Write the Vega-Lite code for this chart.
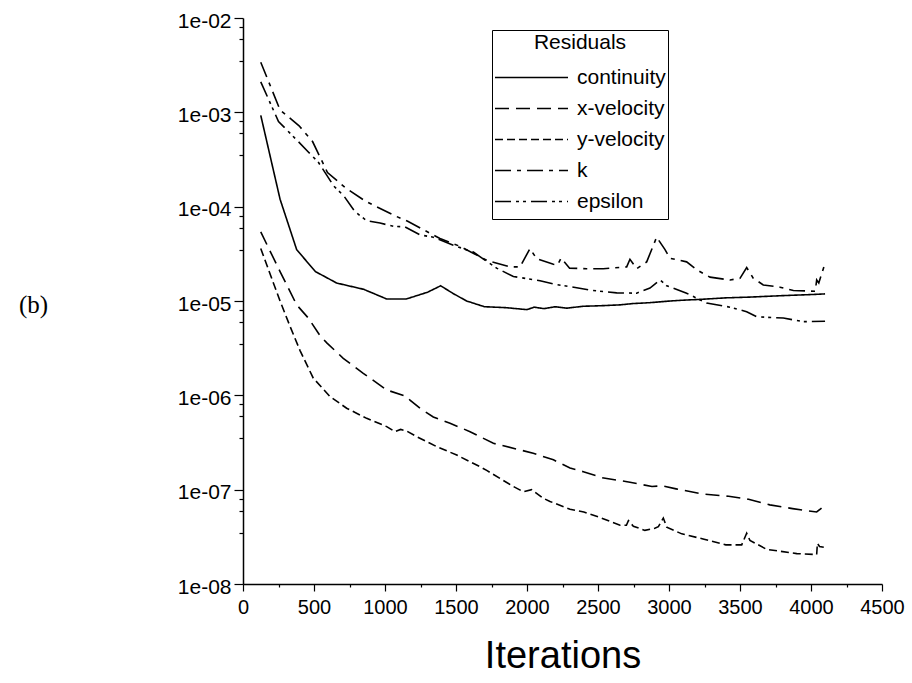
{
  "$schema": "https://vega.github.io/schema/vega-lite/v6.json",
  "width": 639,
  "height": 566,
  "autosize": {"type": "none"},
  "padding": {"left": 243, "top": 18, "right": 30, "bottom": 99},
  "background": "white",
  "config": {
    "view": {"stroke": null},
    "font": "Liberation Sans"
  },
  "data": {
    "values": [
      {"it": 125, "r": 9.3e-4, "s": "continuity"},
      {"it": 261, "r": 1.2e-4, "s": "continuity"},
      {"it": 378, "r": 3.5e-5, "s": "continuity"},
      {"it": 510, "r": 2.05e-5, "s": "continuity"},
      {"it": 660, "r": 1.55e-5, "s": "continuity"},
      {"it": 850, "r": 1.33e-5, "s": "continuity"},
      {"it": 1012, "r": 1.05e-5, "s": "continuity"},
      {"it": 1150, "r": 1.05e-5, "s": "continuity"},
      {"it": 1300, "r": 1.24e-5, "s": "continuity"},
      {"it": 1392, "r": 1.45e-5, "s": "continuity"},
      {"it": 1480, "r": 1.2e-5, "s": "continuity"},
      {"it": 1575, "r": 1.0e-5, "s": "continuity"},
      {"it": 1700, "r": 8.7e-6, "s": "continuity"},
      {"it": 1850, "r": 8.5e-6, "s": "continuity"},
      {"it": 2000, "r": 8.1e-6, "s": "continuity"},
      {"it": 2050, "r": 8.6e-6, "s": "continuity"},
      {"it": 2120, "r": 8.3e-6, "s": "continuity"},
      {"it": 2200, "r": 8.7e-6, "s": "continuity"},
      {"it": 2280, "r": 8.4e-6, "s": "continuity"},
      {"it": 2400, "r": 8.8e-6, "s": "continuity"},
      {"it": 2514, "r": 8.9e-6, "s": "continuity"},
      {"it": 2655, "r": 9.1e-6, "s": "continuity"},
      {"it": 2750, "r": 9.4e-6, "s": "continuity"},
      {"it": 2866, "r": 9.6e-6, "s": "continuity"},
      {"it": 3007, "r": 1.0e-5, "s": "continuity"},
      {"it": 3100, "r": 1.02e-5, "s": "continuity"},
      {"it": 3218, "r": 1.04e-5, "s": "continuity"},
      {"it": 3400, "r": 1.08e-5, "s": "continuity"},
      {"it": 3570, "r": 1.1e-5, "s": "continuity"},
      {"it": 3800, "r": 1.14e-5, "s": "continuity"},
      {"it": 4000, "r": 1.17e-5, "s": "continuity"},
      {"it": 4099, "r": 1.19e-5, "s": "continuity"},

      {"it": 125, "r": 5.4e-5, "s": "x-velocity"},
      {"it": 261, "r": 2.05e-5, "s": "x-velocity"},
      {"it": 378, "r": 9.1e-6, "s": "x-velocity"},
      {"it": 460, "r": 6.6e-6, "s": "x-velocity"},
      {"it": 542, "r": 4.3e-6, "s": "x-velocity"},
      {"it": 590, "r": 3.6e-6, "s": "x-velocity"},
      {"it": 706, "r": 2.47e-6, "s": "x-velocity"},
      {"it": 847, "r": 1.71e-6, "s": "x-velocity"},
      {"it": 1012, "r": 1.14e-6, "s": "x-velocity"},
      {"it": 1153, "r": 9.7e-7, "s": "x-velocity"},
      {"it": 1176, "r": 8.9e-7, "s": "x-velocity"},
      {"it": 1246, "r": 7.3e-7, "s": "x-velocity"},
      {"it": 1340, "r": 5.9e-7, "s": "x-velocity"},
      {"it": 1458, "r": 5.06e-7, "s": "x-velocity"},
      {"it": 1599, "r": 4.12e-7, "s": "x-velocity"},
      {"it": 1669, "r": 3.65e-7, "s": "x-velocity"},
      {"it": 1763, "r": 3.1e-7, "s": "x-velocity"},
      {"it": 1951, "r": 2.64e-7, "s": "x-velocity"},
      {"it": 2044, "r": 2.43e-7, "s": "x-velocity"},
      {"it": 2186, "r": 2.07e-7, "s": "x-velocity"},
      {"it": 2303, "r": 1.7e-7, "s": "x-velocity"},
      {"it": 2397, "r": 1.55e-7, "s": "x-velocity"},
      {"it": 2530, "r": 1.34e-7, "s": "x-velocity"},
      {"it": 2725, "r": 1.2e-7, "s": "x-velocity"},
      {"it": 2880, "r": 1.08e-7, "s": "x-velocity"},
      {"it": 2950, "r": 1.1e-7, "s": "x-velocity"},
      {"it": 3050, "r": 1.02e-7, "s": "x-velocity"},
      {"it": 3235, "r": 9.0e-8, "s": "x-velocity"},
      {"it": 3420, "r": 8.5e-8, "s": "x-velocity"},
      {"it": 3560, "r": 7.9e-8, "s": "x-velocity"},
      {"it": 3710, "r": 6.9e-8, "s": "x-velocity"},
      {"it": 3870, "r": 6.3e-8, "s": "x-velocity"},
      {"it": 4000, "r": 5.9e-8, "s": "x-velocity"},
      {"it": 4040, "r": 5.8e-8, "s": "x-velocity"},
      {"it": 4075, "r": 6.4e-8, "s": "x-velocity"},
      {"it": 4095, "r": 6.2e-8, "s": "x-velocity"},

      {"it": 125, "r": 3.6e-5, "s": "y-velocity"},
      {"it": 214, "r": 1.55e-5, "s": "y-velocity"},
      {"it": 261, "r": 1.0e-5, "s": "y-velocity"},
      {"it": 331, "r": 5.4e-6, "s": "y-velocity"},
      {"it": 401, "r": 3.0e-6, "s": "y-velocity"},
      {"it": 495, "r": 1.52e-6, "s": "y-velocity"},
      {"it": 613, "r": 9.7e-7, "s": "y-velocity"},
      {"it": 730, "r": 7.3e-7, "s": "y-velocity"},
      {"it": 871, "r": 5.7e-7, "s": "y-velocity"},
      {"it": 1012, "r": 4.66e-7, "s": "y-velocity"},
      {"it": 1070, "r": 4.12e-7, "s": "y-velocity"},
      {"it": 1110, "r": 4.35e-7, "s": "y-velocity"},
      {"it": 1150, "r": 4.2e-7, "s": "y-velocity"},
      {"it": 1223, "r": 3.65e-7, "s": "y-velocity"},
      {"it": 1364, "r": 2.86e-7, "s": "y-velocity"},
      {"it": 1505, "r": 2.33e-7, "s": "y-velocity"},
      {"it": 1669, "r": 1.75e-7, "s": "y-velocity"},
      {"it": 1716, "r": 1.6e-7, "s": "y-velocity"},
      {"it": 1904, "r": 1.08e-7, "s": "y-velocity"},
      {"it": 1974, "r": 9.5e-8, "s": "y-velocity"},
      {"it": 2033, "r": 1.0e-7, "s": "y-velocity"},
      {"it": 2115, "r": 8.1e-8, "s": "y-velocity"},
      {"it": 2162, "r": 7.5e-8, "s": "y-velocity"},
      {"it": 2303, "r": 6.2e-8, "s": "y-velocity"},
      {"it": 2400, "r": 5.8e-8, "s": "y-velocity"},
      {"it": 2525, "r": 5.0e-8, "s": "y-velocity"},
      {"it": 2655, "r": 4.2e-8, "s": "y-velocity"},
      {"it": 2700, "r": 4.2e-8, "s": "y-velocity"},
      {"it": 2714, "r": 4.7e-8, "s": "y-velocity"},
      {"it": 2749, "r": 4.1e-8, "s": "y-velocity"},
      {"it": 2830, "r": 3.7e-8, "s": "y-velocity"},
      {"it": 2900, "r": 3.9e-8, "s": "y-velocity"},
      {"it": 2925, "r": 4.05e-8, "s": "y-velocity"},
      {"it": 2960, "r": 5.0e-8, "s": "y-velocity"},
      {"it": 2984, "r": 4.0e-8, "s": "y-velocity"},
      {"it": 3090, "r": 3.4e-8, "s": "y-velocity"},
      {"it": 3240, "r": 3.0e-8, "s": "y-velocity"},
      {"it": 3400, "r": 2.6e-8, "s": "y-velocity"},
      {"it": 3512, "r": 2.6e-8, "s": "y-velocity"},
      {"it": 3547, "r": 3.45e-8, "s": "y-velocity"},
      {"it": 3570, "r": 2.9e-8, "s": "y-velocity"},
      {"it": 3688, "r": 2.33e-8, "s": "y-velocity"},
      {"it": 3900, "r": 2.1e-8, "s": "y-velocity"},
      {"it": 4040, "r": 2.05e-8, "s": "y-velocity"},
      {"it": 4045, "r": 2.7e-8, "s": "y-velocity"},
      {"it": 4060, "r": 2.5e-8, "s": "y-velocity"},
      {"it": 4090, "r": 2.45e-8, "s": "y-velocity"},

      {"it": 125, "r": 3.4e-3, "s": "k"},
      {"it": 261, "r": 1.06e-3, "s": "k"},
      {"it": 395, "r": 7.2e-4, "s": "k"},
      {"it": 490, "r": 4.9e-4, "s": "k"},
      {"it": 595, "r": 2.3e-4, "s": "k"},
      {"it": 718, "r": 1.6e-4, "s": "k"},
      {"it": 860, "r": 1.15e-4, "s": "k"},
      {"it": 1070, "r": 8.0e-5, "s": "k"},
      {"it": 1160, "r": 7.0e-5, "s": "k"},
      {"it": 1280, "r": 5.6e-5, "s": "k"},
      {"it": 1387, "r": 4.6e-5, "s": "k"},
      {"it": 1528, "r": 3.8e-5, "s": "k"},
      {"it": 1716, "r": 2.7e-5, "s": "k"},
      {"it": 1880, "r": 2.3e-5, "s": "k"},
      {"it": 1951, "r": 2.3e-5, "s": "k"},
      {"it": 2021, "r": 3.6e-5, "s": "k"},
      {"it": 2068, "r": 2.8e-5, "s": "k"},
      {"it": 2186, "r": 2.45e-5, "s": "k"},
      {"it": 2215, "r": 2.4e-5, "s": "k"},
      {"it": 2240, "r": 2.85e-5, "s": "k"},
      {"it": 2300, "r": 2.23e-5, "s": "k"},
      {"it": 2420, "r": 2.2e-5, "s": "k"},
      {"it": 2537, "r": 2.2e-5, "s": "k"},
      {"it": 2702, "r": 2.3e-5, "s": "k"},
      {"it": 2725, "r": 2.77e-5, "s": "k"},
      {"it": 2772, "r": 2.2e-5, "s": "k"},
      {"it": 2843, "r": 2.6e-5, "s": "k"},
      {"it": 2913, "r": 4.75e-5, "s": "k"},
      {"it": 2972, "r": 3.5e-5, "s": "k"},
      {"it": 3007, "r": 2.84e-5, "s": "k"},
      {"it": 3124, "r": 2.6e-5, "s": "k"},
      {"it": 3195, "r": 2.14e-5, "s": "k"},
      {"it": 3289, "r": 1.79e-5, "s": "k"},
      {"it": 3430, "r": 1.67e-5, "s": "k"},
      {"it": 3500, "r": 1.74e-5, "s": "k"},
      {"it": 3547, "r": 2.26e-5, "s": "k"},
      {"it": 3594, "r": 1.74e-5, "s": "k"},
      {"it": 3664, "r": 1.48e-5, "s": "k"},
      {"it": 3782, "r": 1.4e-5, "s": "k"},
      {"it": 3876, "r": 1.29e-5, "s": "k"},
      {"it": 4030, "r": 1.27e-5, "s": "k"},
      {"it": 4040, "r": 1.67e-5, "s": "k"},
      {"it": 4055, "r": 1.55e-5, "s": "k"},
      {"it": 4075, "r": 1.94e-5, "s": "k"},
      {"it": 4095, "r": 2.4e-5, "s": "k"},

      {"it": 125, "r": 2.1e-3, "s": "epsilon"},
      {"it": 250, "r": 8.0e-4, "s": "epsilon"},
      {"it": 378, "r": 5.1e-4, "s": "epsilon"},
      {"it": 460, "r": 3.8e-4, "s": "epsilon"},
      {"it": 531, "r": 2.95e-4, "s": "epsilon"},
      {"it": 640, "r": 1.65e-4, "s": "epsilon"},
      {"it": 710, "r": 1.3e-4, "s": "epsilon"},
      {"it": 790, "r": 8.8e-5, "s": "epsilon"},
      {"it": 871, "r": 7.1e-5, "s": "epsilon"},
      {"it": 965, "r": 6.7e-5, "s": "epsilon"},
      {"it": 1059, "r": 6.2e-5, "s": "epsilon"},
      {"it": 1141, "r": 6.1e-5, "s": "epsilon"},
      {"it": 1250, "r": 5.0e-5, "s": "epsilon"},
      {"it": 1340, "r": 4.75e-5, "s": "epsilon"},
      {"it": 1481, "r": 3.9e-5, "s": "epsilon"},
      {"it": 1622, "r": 3.3e-5, "s": "epsilon"},
      {"it": 1786, "r": 2.23e-5, "s": "epsilon"},
      {"it": 1904, "r": 1.82e-5, "s": "epsilon"},
      {"it": 2092, "r": 1.64e-5, "s": "epsilon"},
      {"it": 2200, "r": 1.5e-5, "s": "epsilon"},
      {"it": 2303, "r": 1.42e-5, "s": "epsilon"},
      {"it": 2450, "r": 1.3e-5, "s": "epsilon"},
      {"it": 2632, "r": 1.22e-5, "s": "epsilon"},
      {"it": 2772, "r": 1.21e-5, "s": "epsilon"},
      {"it": 2866, "r": 1.37e-5, "s": "epsilon"},
      {"it": 2937, "r": 1.67e-5, "s": "epsilon"},
      {"it": 2984, "r": 1.45e-5, "s": "epsilon"},
      {"it": 3124, "r": 1.21e-5, "s": "epsilon"},
      {"it": 3265, "r": 9.5e-6, "s": "epsilon"},
      {"it": 3430, "r": 8.6e-6, "s": "epsilon"},
      {"it": 3547, "r": 7.7e-6, "s": "epsilon"},
      {"it": 3618, "r": 6.8e-6, "s": "epsilon"},
      {"it": 3805, "r": 6.6e-6, "s": "epsilon"},
      {"it": 3946, "r": 6.04e-6, "s": "epsilon"},
      {"it": 4099, "r": 6.1e-6, "s": "epsilon"}
    ]
  },
  "mark": {"type": "line", "color": "black", "strokeWidth": 1.6},
  "encoding": {
    "x": {
      "field": "it",
      "type": "quantitative",
      "scale": {"domain": [0, 4500], "nice": false, "zero": false},
      "axis": {
        "values": [0, 250, 500, 750, 1000, 1250, 1500, 1750, 2000, 2250, 2500, 2750, 3000, 3250, 3500, 3750, 4000, 4250, 4500],
        "labelExpr": "datum.value % 500 == 0 ? '' + datum.value : ''",
        "grid": false,
        "domainColor": "black",
        "domainWidth": 1.5,
        "tickColor": "black",
        "tickWidth": 1.2,
        "tickSize": {"condition": {"test": "datum.value % 500 == 0", "value": 7}, "value": 3},
        "labelFont": "Liberation Sans",
        "labelFontSize": 20,
        "labelColor": "black",
        "labelPadding": 6,
        "labelFlush": false,
        "labelOverlap": false,
        "title": "Iterations",
        "titleFont": "Liberation Sans",
        "titleFontSize": 38,
        "titleFontWeight": "normal",
        "titleColor": "black",
        "titlePadding": 20
      }
    },
    "y": {
      "field": "r",
      "type": "quantitative",
      "scale": {"type": "log", "domain": [1e-8, 1e-2], "nice": false},
      "axis": {
        "values": [1e-8, 3.5e-8, 6e-8, 8e-8, 1e-7, 3.5e-7, 6e-7, 8e-7, 1e-6, 3.5e-6, 6e-6, 8e-6, 1e-5, 3.5e-5, 6e-5, 8e-5, 1e-4, 3.5e-4, 6e-4, 8e-4, 1e-3, 3.5e-3, 6e-3, 8e-3, 1e-2],
        "labelExpr": "abs(log(datum.value)/LN10 - round(log(datum.value)/LN10)) < 0.001 ? '1e-0' + (-round(log(datum.value)/LN10)) : ''",
        "grid": false,
        "domainColor": "black",
        "domainWidth": 1.5,
        "tickColor": "black",
        "tickWidth": 1.2,
        "tickSize": {"condition": {"test": "abs(log(datum.value)/LN10 - round(log(datum.value)/LN10)) < 0.001", "value": 9}, "value": 4},
        "labelFont": "Liberation Sans",
        "labelFontSize": 21,
        "labelColor": "black",
        "labelPadding": 3,
        "labelOffset": 3,
        "labelFlush": false,
        "labelOverlap": false,
        "title": "(b)",
        "titleAngle": 0,
        "titleFont": "Liberation Serif",
        "titleFontSize": 25,
        "titleFontWeight": "normal",
        "titleColor": "black",
        "titleAlign": "center",
        "titleBaseline": "middle",
        "titleX": -210,
        "titleY": 286
      }
    },
    "strokeDash": {
      "field": "s",
      "type": "nominal",
      "scale": {
        "domain": ["continuity", "x-velocity", "y-velocity", "k", "epsilon"],
        "range": [[1, 0], [14, 7], [8, 4], [16, 6, 4, 6], [16, 5, 3, 4, 3, 5]]
      },
      "legend": {
        "orient": "none",
        "legendX": 249,
        "legendY": 12,
        "title": "Residuals",
        "titleAnchor": "middle",
        "titleFont": "Liberation Sans",
        "titleFontSize": 21,
        "titleFontWeight": "normal",
        "titleColor": "black",
        "titlePadding": 9,
        "labelFont": "Liberation Sans",
        "labelFontSize": 21,
        "labelColor": "black",
        "labelOffset": 8,
        "labelLimit": 600,
        "labelExpr": "pad(datum.label, 45, '\u00a0')",
        "symbolType": "stroke",
        "symbolSize": 5329,
        "symbolStrokeWidth": 1.5,
        "symbolStrokeColor": "black",
        "symbolOffset": 0,
        "clipHeight": 31,
        "rowPadding": 0,
        "padding": 2,
        "strokeColor": "black",
        "fillColor": "white"
      }
    }
  }
}
